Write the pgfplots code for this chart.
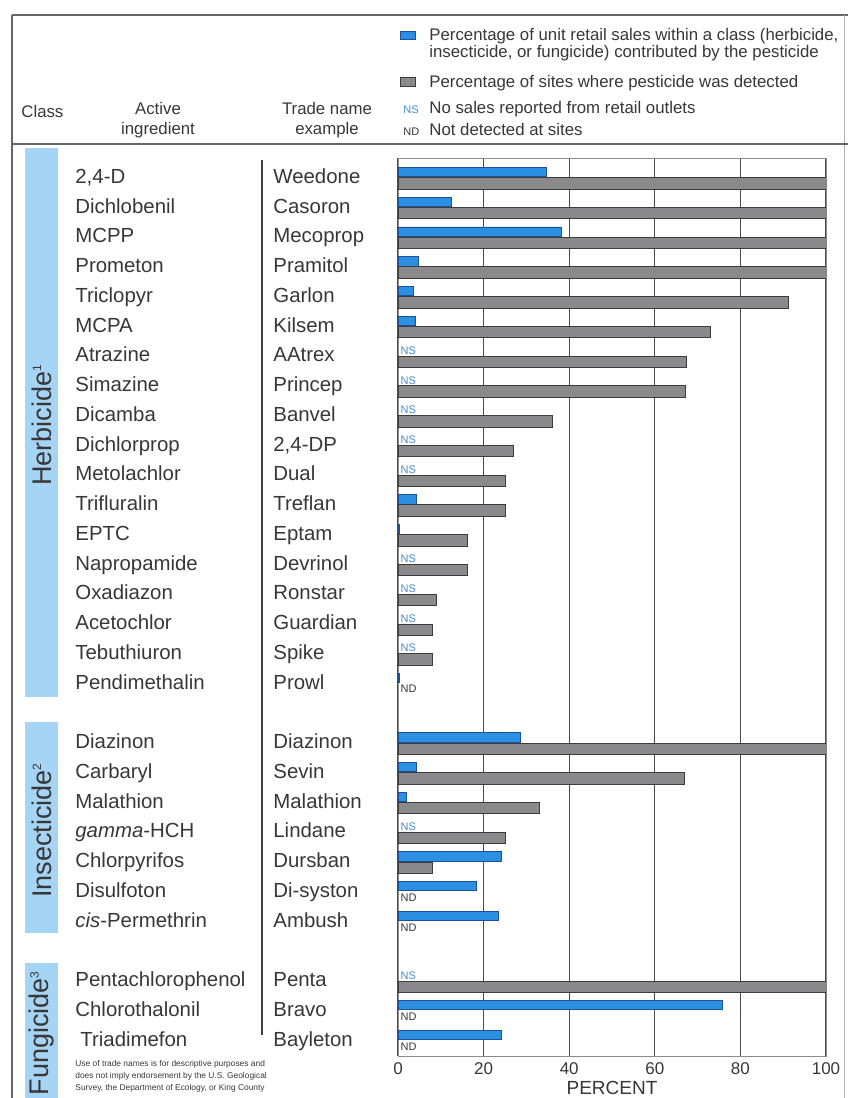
\documentclass[border=0pt]{standalone}
\usepackage{pgfplots}
\pgfplotsset{compat=1.18}
\usepackage{pgfplotstable}
\usepackage{fontspec}
\setmainfont{Liberation Sans}
\definecolor{barblue}{RGB}{43,143,228}
\definecolor{barblueedge}{RGB}{30,80,150}
\definecolor{bargray}{RGB}{138,138,140}
\definecolor{bargrayedge}{RGB}{60,60,60}
\definecolor{band}{RGB}{166,212,244}
\definecolor{txt}{RGB}{55,55,55}
\definecolor{nsblue}{RGB}{70,140,210}

% sales share (blue), x = percent, y = row
\pgfplotstableread{
x y
34.6 0
12.4 1
38.2 2
4.7 3
3.7 4
4.1 5
4.4 11
0.4 12
0.3 17
28.5 19
4.2 20
1.9 21
24.1 23
18.3 24
23.4 25
75.8 28
24.2 29
}\sales

% detection frequency (gray)
\pgfplotstableread{
x y
100 0
100 1
100 2
100 3
91.2 4
73.1 5
67.3 6
67.1 7
36.1 8
27.1 9
25.2 10
25.2 11
16.2 12
16.2 13
9.0 14
8.0 15
8.1 16
100 19
67.0 20
33.0 21
25.1 22
8.0 23
100 27
}\detect

\newcommand\bodyfont{\fontsize{10.2}{12}\selectfont}
\newcommand\legfont{\fontsize{8.4}{10}\selectfont}
\newcommand\tinyfont{\fontsize{5.5}{6}\selectfont}

\begin{document}
\begin{tikzpicture}
\begin{scope}[x=0.5pt,y=-0.5pt]
  \fill[band] (25,148) rectangle (58,697);
  \fill[band] (25,722) rectangle (58,933);
  \fill[band] (25,963) rectangle (58,1098);
  \draw[black!60, line width=0.6pt] (12,15) -- (848,15);
  \draw[black!60, line width=0.6pt] (12,15) -- (12,1098);
  \draw[black!30, line width=0.5pt] (844,15) -- (844,1098);
  \draw[black!60, line width=0.6pt] (12,144) -- (848,144);
  \draw[black!75, line width=0.6pt] (262,160) -- (262,1035);
\end{scope}

\begin{axis}[
  at={(199pt,-79pt)}, anchor=north west,
  scale only axis, width=214pt, height=449pt,
  xmin=0, xmax=100, ymin=-0.672, ymax=29.51, y dir=reverse,
  xtick={0,20,40,60,80,100}, ytick=\empty,
  major tick length=0pt,
  xmajorgrids, grid style={draw=black!70, line width=0.6pt},
  axis line style={draw=black!45, line width=0.5pt},
  tick label style={font=\fontsize{8.5}{10}\selectfont, text=txt},
  /pgf/number format/assume math mode=true,
  xlabel={PERCENT},
  xlabel style={at={(axis description cs:0.5,0)}, anchor=center, yshift=-16pt,
    font=\fontsize{9.5}{10}\selectfont, text=txt},
]
\addplot[xbar, bar width=0.31, bar shift=-0.2, fill=barblue, draw=barblueedge, line width=0.4pt]
  table[x=x, y=y]{\sales};
\addplot[xbar, bar width=0.38, bar shift=0.18, fill=bargray, draw=bargrayedge, line width=0.5pt]
  table[x=x, y=y]{\detect};
\pgfplotsinvokeforeach{6,7,8,9,10,13,14,15,16,22,27}{
  \node[anchor=west, inner sep=0.5pt, font=\tinyfont, text=nsblue, yshift=3pt] at (axis cs:0.3,#1) {NS};
}
\pgfplotsinvokeforeach{17,24,25,28,29}{
  \node[anchor=west, inner sep=0.5pt, font=\tinyfont, text=txt, yshift=-2.7pt] at (axis cs:0.3,#1) {ND};
}
\end{axis}

\begin{scope}[x=0.5pt,y=-0.5pt]
  % legend
  \fill[barblue, draw=barblueedge, line width=0.3pt] (400,31) rectangle (415,39);
  \node[anchor=mid west, inner sep=0pt, font=\legfont, text=txt] at (429,35) {Percentage of unit retail sales within a class (herbicide,};
  \node[anchor=mid west, inner sep=0pt, font=\legfont, text=txt] at (429,52) {insecticide, or fungicide) contributed by the pesticide};
  \fill[bargray, draw=bargrayedge, line width=0.3pt] (400,77) rectangle (415,86);
  \node[anchor=mid west, inner sep=0pt, font=\legfont, text=txt] at (429,82) {Percentage of sites where pesticide was detected};
  \node[anchor=mid west, inner sep=0pt, font=\tinyfont, text=nsblue] at (403,108) {NS};
  \node[anchor=mid west, inner sep=0pt, font=\legfont, text=txt] at (429,108) {No sales reported from retail outlets};
  \node[anchor=mid west, inner sep=0pt, font=\tinyfont, text=txt] at (403,130) {ND};
  \node[anchor=mid west, inner sep=0pt, font=\legfont, text=txt] at (429,130) {Not detected at sites};
  % column heads
  \node[anchor=mid west, inner sep=0pt, font=\legfont, text=txt] at (21,112) {Class};
  \node[align=center, inner sep=0pt, font=\legfont, text=txt] at (158,120) {Active\\ingredient};
  \node[align=center, inner sep=0pt, font=\legfont, text=txt] at (327,120) {Trade name\\example};
  % class labels
  \node[rotate=90, inner sep=0pt, font=\fontsize{13.5}{14}\selectfont, text=txt] at (42,425) {Herbicide\textsuperscript{\fontsize{6}{6}\selectfont 1}};
  \node[rotate=90, inner sep=0pt, font=\fontsize{13.5}{14}\selectfont, text=txt] at (42,830) {Insecticide\textsuperscript{\fontsize{6}{6}\selectfont 2}};
  \node[rotate=90, inner sep=0pt, font=\fontsize{13.5}{14}\selectfont, text=txt] at (42,1033) {Fungicide\textsuperscript{\fontsize{6}{6}\selectfont 3}};
  % rows
  \foreach \r/\a/\t in {0/{2,4-D}/Weedone, 1/Dichlobenil/Casoron, 2/MCPP/Mecoprop, 3/Prometon/Pramitol,
    4/Triclopyr/Garlon, 5/MCPA/Kilsem, 6/Atrazine/AAtrex, 7/Simazine/Princep, 8/Dicamba/Banvel,
    9/Dichlorprop/{2,4-DP}, 10/Metolachlor/Dual, 11/Trifluralin/Treflan, 12/EPTC/Eptam,
    13/Napropamide/Devrinol, 14/Oxadiazon/Ronstar, 15/Acetochlor/Guardian, 16/Tebuthiuron/Spike,
    17/Pendimethalin/Prowl, 19/Diazinon/Diazinon, 20/Carbaryl/Sevin, 21/Malathion/Malathion,
    22/{\textit{gamma}-HCH}/Lindane, 23/Chlorpyrifos/Dursban, 24/Disulfoton/Di-syston,
    25/{\textit{cis}-Permethrin}/Ambush, 27/Pentachlorophenol/Penta, 28/Chlorothalonil/Bravo} {
    \node[anchor=mid west, inner sep=0pt, font=\bodyfont, text=txt] at (75,{178+\r*29.75}) {\a};
    \node[anchor=mid west, inner sep=0pt, font=\bodyfont, text=txt] at (273,{178+\r*29.75}) {\t};
  }
  \node[anchor=mid west, inner sep=0pt, font=\bodyfont, text=txt] at (80,{178+29*29.75}) {Triadimefon};
  \node[anchor=mid west, inner sep=0pt, font=\bodyfont, text=txt] at (273,{178+29*29.75}) {Bayleton};
  % footnote
  \node[anchor=north west, inner sep=0pt, align=left, font=\fontsize{4.2}{6}\selectfont, text=txt] at (75,1060)
    {Use of trade names is for descriptive purposes and\\does not imply endorsement by the U.S. Geological\\Survey, the Department of Ecology, or King County};
\end{scope}
\pgfresetboundingbox
\path[use as bounding box] (0,0) rectangle (424pt,-549pt);
\end{tikzpicture}
\end{document}
